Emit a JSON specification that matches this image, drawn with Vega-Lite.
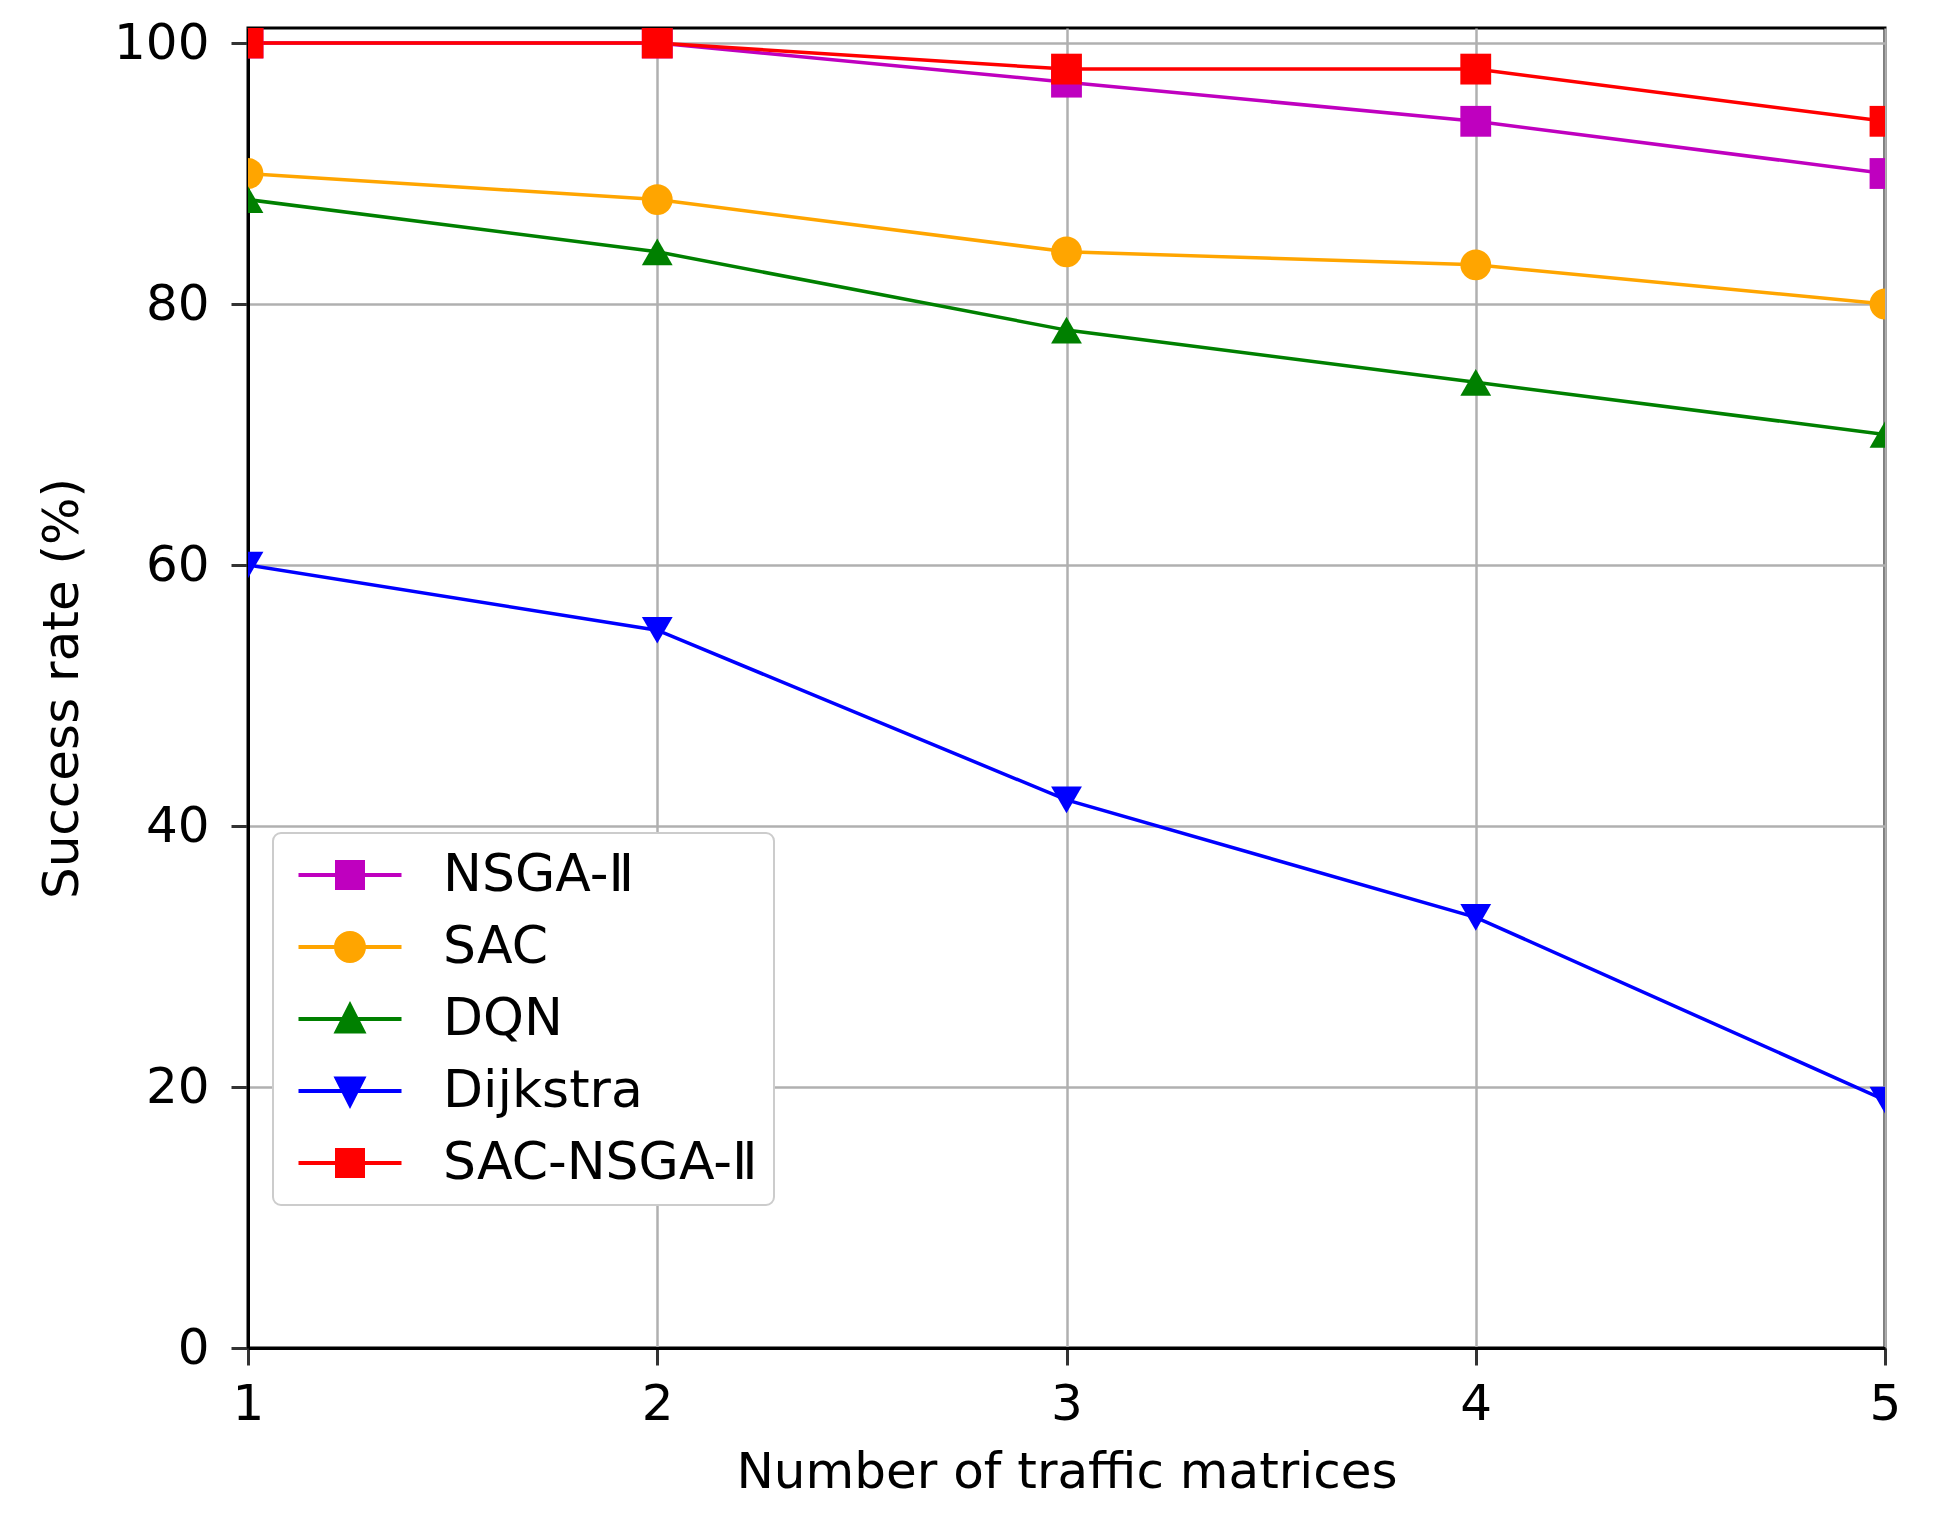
{
  "$schema": "https://vega.github.io/schema/vega-lite/v6.json",
  "width": 1637,
  "height": 1320,
  "autosize": "none",
  "padding": {"left": 248, "top": 28, "right": 66, "bottom": 188},
  "background": "white",
  "config": {
    "font": "DejaVu Sans",
    "view": {"stroke": "black", "strokeWidth": 3},
    "axis": {
      "labelFontSize": 50,
      "titleFontSize": 50,
      "titleFontWeight": "normal",
      "labelColor": "black",
      "titleColor": "black",
      "tickSize": 17,
      "tickWidth": 3,
      "tickColor": "#333333",
      "domainColor": "black",
      "domainWidth": 3,
      "gridColor": "#b0b0b0",
      "gridWidth": 2.5,
      "labelFlush": false,
      "labelOverlap": false
    },
    "legend": {"strokeWidth": 2}
  },
  "data": {
    "values": [
      {"method": "NSGA-Ⅱ", "tm": 1, "rate": 100},
      {"method": "NSGA-Ⅱ", "tm": 2, "rate": 100},
      {"method": "NSGA-Ⅱ", "tm": 3, "rate": 97},
      {"method": "NSGA-Ⅱ", "tm": 4, "rate": 94},
      {"method": "NSGA-Ⅱ", "tm": 5, "rate": 90},
      {"method": "SAC", "tm": 1, "rate": 90},
      {"method": "SAC", "tm": 2, "rate": 88},
      {"method": "SAC", "tm": 3, "rate": 84},
      {"method": "SAC", "tm": 4, "rate": 83},
      {"method": "SAC", "tm": 5, "rate": 80},
      {"method": "DQN", "tm": 1, "rate": 88},
      {"method": "DQN", "tm": 2, "rate": 84},
      {"method": "DQN", "tm": 3, "rate": 78},
      {"method": "DQN", "tm": 4, "rate": 74},
      {"method": "DQN", "tm": 5, "rate": 70},
      {"method": "Dijkstra", "tm": 1, "rate": 60},
      {"method": "Dijkstra", "tm": 2, "rate": 55},
      {"method": "Dijkstra", "tm": 3, "rate": 42},
      {"method": "Dijkstra", "tm": 4, "rate": 33},
      {"method": "Dijkstra", "tm": 5, "rate": 19},
      {"method": "SAC-NSGA-Ⅱ", "tm": 1, "rate": 100},
      {"method": "SAC-NSGA-Ⅱ", "tm": 2, "rate": 100},
      {"method": "SAC-NSGA-Ⅱ", "tm": 3, "rate": 98},
      {"method": "SAC-NSGA-Ⅱ", "tm": 4, "rate": 98},
      {"method": "SAC-NSGA-Ⅱ", "tm": 5, "rate": 94}
    ]
  },
  "encoding": {
    "x": {
      "field": "tm",
      "type": "quantitative",
      "scale": {"domain": [1, 5], "nice": false, "zero": false},
      "axis": {
        "title": "Number of traffic matrices",
        "values": [1, 2, 3, 4, 5],
        "format": "d",
        "labelPadding": 14,
        "titlePadding": 18
      }
    },
    "y": {
      "field": "rate",
      "type": "quantitative",
      "scale": {"domain": [0, 101.15], "nice": false},
      "axis": {
        "title": "Success rate (%)",
        "values": [0, 20, 40, 60, 80, 100],
        "format": "d",
        "labelPadding": 22,
        "titlePadding": 26
      }
    }
  },
  "layer": [
    {
      "mark": {"type": "line", "strokeWidth": 3.5, "clip": true},
      "encoding": {
        "color": {
          "field": "method",
          "type": "nominal",
          "scale": {
            "domain": ["NSGA-Ⅱ", "SAC", "DQN", "Dijkstra", "SAC-NSGA-Ⅱ"],
            "range": ["#bf00bf", "#ffa500", "#008000", "#0000ff", "#ff0000"]
          },
          "legend": null
        }
      }
    },
    {
      "mark": {"type": "point", "filled": true, "opacity": 1, "size": 950, "clip": true},
      "encoding": {
        "color": {
          "field": "method",
          "type": "nominal",
          "scale": {
            "domain": ["NSGA-Ⅱ", "SAC", "DQN", "Dijkstra", "SAC-NSGA-Ⅱ"],
            "range": ["#bf00bf", "#ffa500", "#008000", "#0000ff", "#ff0000"]
          },
          "legend": null
        },
        "shape": {
          "field": "method",
          "type": "nominal",
          "scale": {
            "domain": ["NSGA-Ⅱ", "SAC", "DQN", "Dijkstra", "SAC-NSGA-Ⅱ"],
            "range": ["square", "circle", "triangle-up", "triangle-down", "square"]
          },
          "legend": null
        }
      }
    },
    {
      "mark": {"type": "point", "filled": true, "opacity": 0, "clip": true},
      "encoding": {
        "color": {
          "field": "method",
          "type": "nominal",
          "scale": {
            "domain": ["NSGA-Ⅱ", "SAC", "DQN", "Dijkstra", "SAC-NSGA-Ⅱ"],
            "range": ["#bf00bf", "#ffa500", "#008000", "#0000ff", "#ff0000"]
          },
          "legend": {
            "title": null,
            "orient": "none",
            "legendX": 25,
            "legendY": 805,
            "symbolSize": 2500,
            "labelFontSize": 52,
            "labelLimit": 800,
            "labelColor": "black",
            "fillColor": "white",
            "strokeColor": "#cccccc",
            "cornerRadius": 8,
            "padding": 16,
            "rowPadding": 20,
            "symbolOffset": 35,
            "labelOffset": 67,
            "symbolStrokeWidth": 0,
            "symbolOpacity": 1
          }
        },
        "shape": {
          "field": "method",
          "type": "nominal",
          "scale": {
            "domain": ["NSGA-Ⅱ", "SAC", "DQN", "Dijkstra", "SAC-NSGA-Ⅱ"],
            "range": [
              "M-2.06,-0.08H2.06V0.08H-2.06Z M-0.6,-0.6H0.6V0.6H-0.6Z",
              "M-2.06,-0.08H2.06V0.08H-2.06Z M-0.64,0A0.64,0.64 0 1,1 0.64,0A0.64,0.64 0 1,1 -0.64,0Z",
              "M-2.06,-0.08H2.06V0.08H-2.06Z M0,-0.72L0.66,0.58H-0.66Z",
              "M-2.06,-0.08H2.06V0.08H-2.06Z M0,0.72L-0.66,-0.58H0.66Z",
              "M-2.06,-0.08H2.06V0.08H-2.06Z M-0.6,-0.6H0.6V0.6H-0.6Z"
            ]
          },
          "legend": {
            "title": null,
            "orient": "none",
            "legendX": 25,
            "legendY": 805,
            "symbolSize": 2500,
            "labelFontSize": 52,
            "labelLimit": 800,
            "labelColor": "black",
            "fillColor": "white",
            "strokeColor": "#cccccc",
            "cornerRadius": 8,
            "padding": 16,
            "rowPadding": 20,
            "symbolOffset": 35,
            "labelOffset": 67,
            "symbolStrokeWidth": 0,
            "symbolOpacity": 1
          }
        }
      }
    }
  ],
  "resolve": {"scale": {"color": "independent", "shape": "independent"}}
}
